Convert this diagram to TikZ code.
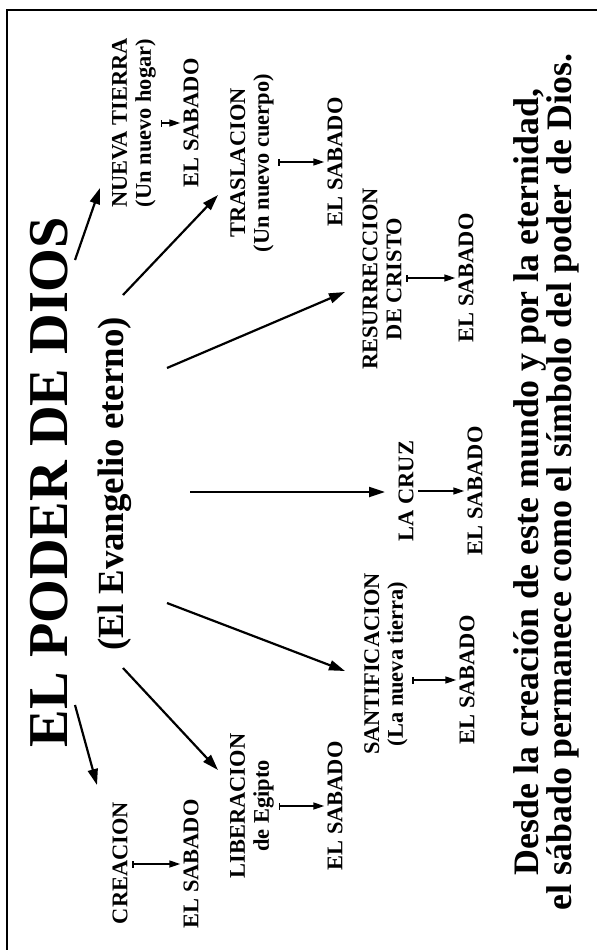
\documentclass[tikz,border=0pt]{standalone}
\usepackage{fontspec}
\setmainfont{Liberation Serif}
\usetikzlibrary{arrows.meta}
\newcommand{\lblfont}{\bfseries\fontsize{22.5}{24}\selectfont}
\tikzset{lbl/.style={rotate=90, inner sep=3bp, align=center, font=\lblfont}}
\tikzset{bigarrow/.style={color=black, line width=2.2bp, -{Triangle[length=16bp,width=10bp]}}}
\tikzset{subarrow/.style={color=black, line width=1.6bp, shorten <=1.5bp, {Bar[width=7bp]}-{Triangle[length=11bp,width=7bp]}}}

\begin{document}
\begin{tikzpicture}[x=1bp, y=-1bp]
  \useasboundingbox (0,0) rectangle (597,950);
  \draw[line width=1.5bp] (7,950) -- (7,10) -- (597,10);

  \node[rotate=90, font=\bfseries\fontsize{56.5}{58}\selectfont] (title) at (49,482) {EL PODER DE DIOS};
  \node[rotate=90, font=\bfseries\fontsize{37}{40}\selectfont] (gospel) at (115,484) {(El Evangelio eterno)};

  \node[lbl] (tierra) at (134,123) {NUEVA TIERRA\\(Un nuevo hogar)};
  \node[lbl] (sab1) at (191,123) {EL SABADO};
  \node[lbl] (trasl) at (252,163) {TRASLACION\\(Un nuevo cuerpo)};
  \node[lbl] (sab2) at (335,162) {EL SABADO};
  \node[lbl] (resur) at (382,279) {RESURRECCION\\DE CRISTO};
  \node[lbl] (sab3) at (466,278) {EL SABADO};
  \node[lbl] (cruz) at (406,491) {LA CRUZ};
  \node[lbl] (sab4) at (475,491) {EL SABADO};
  \node[lbl] (santif) at (386,664) {SANTIFICACION\\(La nueva tierra)};
  \node[lbl] (sab5) at (467,680) {EL SABADO};
  \node[lbl] (liber) at (252,806) {LIBERACION\\de Egipto};
  \node[lbl] (sab6) at (335,806) {EL SABADO};
  \node[lbl] (creac) at (120,863) {CREACION};
  \node[lbl] (sab7) at (191,864) {EL SABADO};

  \node[rotate=90, align=center, font=\bfseries\fontsize{36}{33}\selectfont] (note) at (546,482)
    {Desde la creación de este mundo y por la eternidad,\\el sábado permanece como el símbolo del poder de Dios.};

  \coordinate (h1) at (75,260);  \coordinate (t1) at (100,188);
  \coordinate (h2) at (123,295); \coordinate (t2) at (218,195);
  \coordinate (h3) at (167,368); \coordinate (t3) at (345,292);
  \coordinate (h4) at (190,492); \coordinate (t4) at (385,492);
  \coordinate (h5) at (167,603); \coordinate (t5) at (345,671);
  \coordinate (h6) at (123,668); \coordinate (t6) at (218,770);
  \coordinate (h7) at (75,705);  \coordinate (t7) at (97,785);

  \draw[bigarrow] (h1) -- (t1);
  \draw[bigarrow] (h2) -- (t2);
  \draw[bigarrow] (h3) -- (t3);
  \draw[bigarrow] (h4) -- (t4);
  \draw[bigarrow] (h5) -- (t5);
  \draw[bigarrow] (h6) -- (t6);
  \draw[bigarrow] (h7) -- (t7);

  \draw[subarrow] (tierra.south |- sab1) -- (sab1.north);
  \draw[subarrow] (trasl.south |- sab2) -- (sab2.north);
  \draw[subarrow] (resur.south |- sab3) -- (sab3.north);
  \draw[subarrow, -{Triangle[length=11bp,width=7bp]}] (cruz.south |- sab4) -- (sab4.north);
  \draw[subarrow] (santif.south |- sab5) -- (sab5.north);
  \draw[subarrow] (liber.south |- sab6) -- (sab6.north);
  \draw[subarrow] (creac.south |- sab7) -- (sab7.north);
\end{tikzpicture}
\end{document}
